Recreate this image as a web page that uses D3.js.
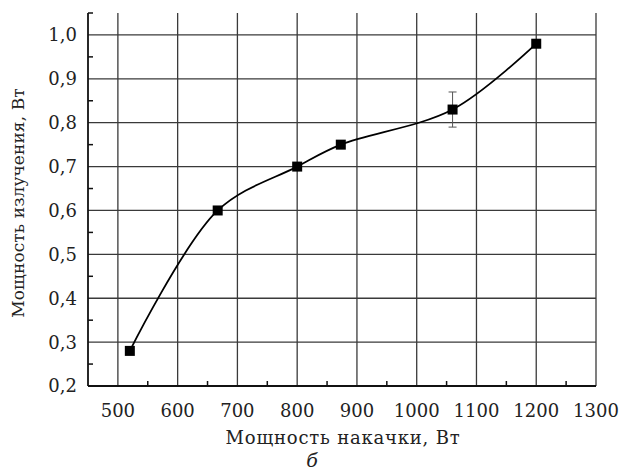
<!DOCTYPE html>
<html><head><meta charset="utf-8">
<script src="https://cdn.jsdelivr.net/npm/d3@7/dist/d3.min.js"></script>
<style>body{margin:0;background:#fff}svg{display:block}</style>
</head><body>
<svg id="c" width="619" height="473"></svg>
<script>
const pumpPower = [520, 667, 800, 873, 1060, 1200];
const outPower  = [0.28, 0.60, 0.70, 0.75, 0.83, 0.98];
const errPlusMinus = [0, 0, 0, 0, 0.04, 0];
const xTicks = [500, 600, 700, 800, 900, 1000, 1100, 1200, 1300];
const yTicks = [0.2, 0.3, 0.4, 0.5, 0.6, 0.7, 0.8, 0.9, 1.0];
const xMinor = [550, 650, 750, 850, 950, 1050, 1150, 1250];
const yMinor = [0.25, 0.35, 0.45, 0.55, 0.65, 0.75, 0.85, 0.95, 1.05];
const xTitle = "Мощность накачки, Вт";
const yTitle = "Мощность излучения, Вт";
const caption = "б";

const svg = d3.select("#c");
const L = 88, R = 596, T = 13, B = 386;
const x = d3.scaleLinear().domain([450, 1300]).range([L, R]);
const y = d3.scaleLinear().domain([0.2, 1.05]).range([B, T]);
const font = "DejaVu Serif";

// grid
const g = svg.append("g");
g.selectAll("line.vg").data(xTicks).join("line")
  .attr("x1", d => x(d)).attr("x2", d => x(d)).attr("y1", T).attr("y2", B)
  .attr("stroke", "#3a3a3a").attr("stroke-width", 1.3);
g.selectAll("line.hg").data(yTicks.filter(d => d > 0.2)).join("line")
  .attr("class","hg")
  .attr("x1", L).attr("x2", x(1300)).attr("y1", d => y(d)).attr("y2", d => y(d))
  .attr("stroke", "#3a3a3a").attr("stroke-width", 1.3);

// minor ticks
g.selectAll("line.xm").data(xMinor).join("line").attr("class","xm")
  .attr("x1", d => x(d)).attr("x2", d => x(d)).attr("y1", B).attr("y2", B - 5)
  .attr("stroke", "#111").attr("stroke-width", 1.5);
g.selectAll("line.ym").data(yMinor).join("line").attr("class","ym")
  .attr("x1", L).attr("x2", L + 5).attr("y1", d => y(d)).attr("y2", d => y(d))
  .attr("stroke", "#111").attr("stroke-width", 1.5);

// axes lines
svg.append("line").attr("x1", L).attr("x2", L).attr("y1", T).attr("y2", B)
  .attr("stroke", "#111").attr("stroke-width", 1.8);
svg.append("line").attr("x1", L).attr("x2", x(1300)).attr("y1", B).attr("y2", B)
  .attr("stroke", "#111").attr("stroke-width", 1.8);

// tick labels
svg.selectAll("text.xt").data(xTicks).join("text").attr("class","xt")
  .attr("x", d => x(d)).attr("y", 417).attr("text-anchor", "middle")
  .attr("font-family", font).attr("font-size", 18).attr("fill", "#222")
  .text(d => d);
svg.selectAll("text.yt").data(yTicks).join("text").attr("class","yt")
  .attr("x", 77).attr("y", d => y(d)).attr("dy", "0.36em").attr("text-anchor", "end")
  .attr("font-family", font).attr("font-size", 18).attr("fill", "#222")
  .text(d => d3.format(".1f")(d).replace(".", ","));

// titles
svg.append("text").attr("x", 343).attr("y", 444).attr("text-anchor", "middle")
  .attr("font-family", font).attr("font-size", 18).attr("letter-spacing", 0.8).attr("fill", "#222").text(xTitle);
svg.append("text").attr("transform", "translate(24,203) rotate(-90)").attr("text-anchor", "middle")
  .attr("font-family", font).attr("font-size", 17).attr("letter-spacing", 0.1).attr("fill", "#222").text(yTitle);
svg.append("text").attr("x", 312).attr("y", 467).attr("text-anchor", "middle")
  .attr("font-family", font).attr("font-style", "italic").attr("font-size", 19).attr("fill", "#222").text(caption);

// data
const pts = pumpPower.map((p, i) => ({x: p, y: outPower[i], e: errPlusMinus[i]}));
const line = d3.line().x(d => x(d.x)).y(d => y(d.y)).curve(d3.curveCatmullRom.alpha(0.5));
svg.append("path").datum(pts).attr("d", line).attr("fill", "none")
  .attr("stroke", "#000").attr("stroke-width", 1.8);

const eb = svg.append("g").attr("stroke", "#555").attr("stroke-width", 1);
pts.filter(d => d.e > 0).forEach(d => {
  eb.append("line").attr("x1", x(d.x)).attr("x2", x(d.x)).attr("y1", y(d.y - d.e)).attr("y2", y(d.y + d.e));
  eb.append("line").attr("x1", x(d.x) - 4).attr("x2", x(d.x) + 4).attr("y1", y(d.y - d.e)).attr("y2", y(d.y - d.e));
  eb.append("line").attr("x1", x(d.x) - 4).attr("x2", x(d.x) + 4).attr("y1", y(d.y + d.e)).attr("y2", y(d.y + d.e));
});

svg.selectAll("rect.m").data(pts).join("rect").attr("class","m")
  .attr("x", d => x(d.x) - 5).attr("y", d => y(d.y) - 5)
  .attr("width", 10).attr("height", 10).attr("fill", "#000");
</script>
</body></html>
